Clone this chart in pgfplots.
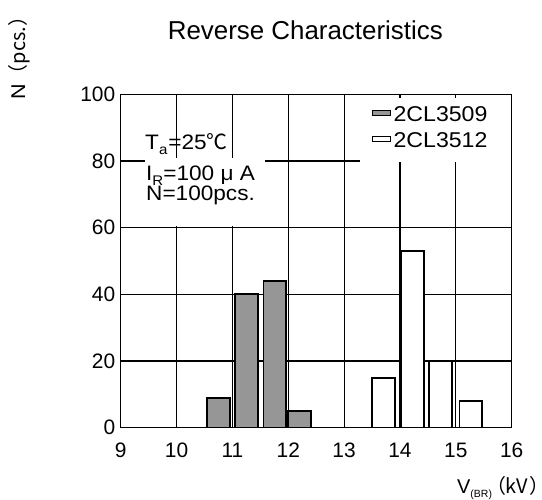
\documentclass[border=0pt]{standalone}
\usepackage{fontspec}
\setmainfont{Liberation Sans}
\newfontfamily\wide[FakeStretch=1.08]{Liberation Sans}
\newfontfamily\cjk{Noto Sans CJK SC}
\newfontfamily\cjkp[RawFeature=+palt]{Noto Sans CJK SC}
\usepackage{pgfplots}
\pgfplotsset{compat=1.18}
\definecolor{bargray}{RGB}{150,150,150}

\begin{document}
\begin{tikzpicture}
\useasboundingbox (0,0) rectangle (542bp,500bp);
\begin{axis}[
    at={(120.7bp,72.3bp)}, anchor=south west,
    scale only axis, width=391bp, height=333.4bp,
    xmin=9, xmax=16, ymin=0, ymax=100,
    xtick={9,...,16}, ytick={0,20,...,100},
    grid=major, grid style={black, line width=1.1bp},
    axis line style={line width=1.1bp},
    tick style={draw=none},
    ticklabel style={font=\fontsize{21}{24}\selectfont},
    /pgf/number format/assume math mode=true,
    xticklabel style={yshift=-12bp},
    yticklabel style={xshift=-2bp},
    lgbox/.style={legend image code/.code={%
        \draw[##1, line width=1bp] (0bp,-0.5bp) rectangle (18bp,4.5bp);
        \path (20bp,2bp);}},
    legend style={at={(0.6427,0.979)}, anchor=north west, draw=none, fill=none,
        inner sep=0pt, row sep=0pt, font=\wide\fontsize{21.5}{24}\selectfont,
        nodes={inner xsep=0bp, inner ysep=5bp}},
    legend cell align=left,
]
% 2CL3509
\addplot[ybar, bar width=0.41, bar shift=0pt, fill=bargray, draw=black, line width=1.8bp, lgbox]
    coordinates {(10.75,9) (11.25,40) (11.76,44) (12.2,5)};
\addlegendentry{2CL3509}
% 2CL3512
\addplot[ybar, bar width=0.41, bar shift=0pt, fill=white, draw=black, line width=1.8bp, lgbox]
    coordinates {(13.71,15) (14.23,53) (14.72,20) (15.27,8)};
\addlegendentry{2CL3512}
% white patches behind the notes and the legend
\fill[white] (axis cs:9.03,60.4) rectangle (axis cs:11.97,79.6);
\fill[white] (axis cs:9.435,79) rectangle (axis cs:11.58,81);
\fill[white] (axis cs:13.284,79.6) rectangle (axis cs:15.985,98.9);
\end{axis}

\node[anchor=base, font=\fontsize{26}{30}\selectfont] at (305.3bp,460bp) {Reverse Characteristics};
\node[anchor=base west, rotate=90, font=\wide\fontsize{20}{24}\selectfont, inner sep=0pt]
    at (25bp,400bp) {N\cjk{（}pcs.\cjk{）}};
\node[anchor=base west, font=\fontsize{20}{24}\selectfont, inner sep=0pt]
    at (457bp,7bp) {V\raisebox{-0.25em}{\fontsize{10.5}{12}\selectfont (BR)}\kern4bp\cjkp{（}kV\kern2bp\cjkp{）}};

\begin{scope}[every node/.style={anchor=base west, inner sep=0pt, font=\wide\fontsize{21}{24}\selectfont}]
\node at (145bp,350bp) {T\raisebox{-0.2em}{\fontsize{14}{14}\selectfont a}\kern1bp=25\cjk{℃}};
\node at (146bp,319bp) {I\raisebox{-0.2em}{\fontsize{14}{14}\selectfont R}=100 μ A};
\node at (146bp,299.4bp) {N=100pcs.};
\end{scope}
\end{tikzpicture}
\end{document}
